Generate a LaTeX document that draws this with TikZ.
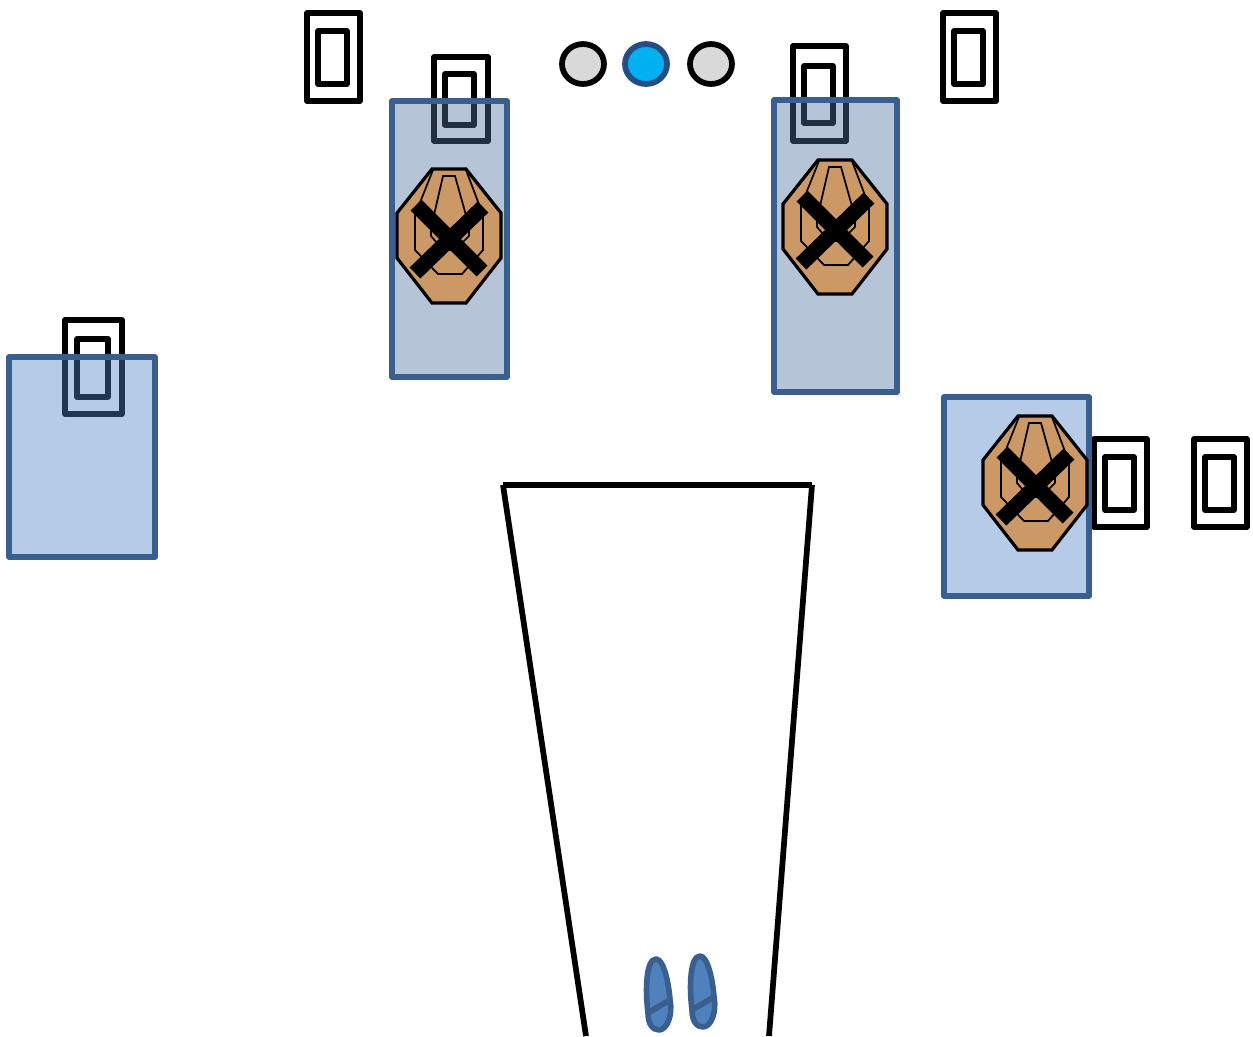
\documentclass[tikz,border=0pt]{standalone}

\definecolor{tapeblue}{HTML}{4E84C8}
\definecolor{tapegrey}{HTML}{4F729D}
\definecolor{edgeblue}{HTML}{3A5F8F}
\definecolor{lampblue}{HTML}{00B0F0}
\definecolor{lampedge}{HTML}{234E85}
\definecolor{targetbrown}{HTML}{CC9966}
\definecolor{footblue}{HTML}{4F81BD}

\newcommand{\shooter}[2]{
  \begin{scope}[shift={(#1,#2)}]
    \draw[target] (-17,-67) -- (17,-67) -- (52,-23) -- (52,22) -- (17,67) -- (-17,67) -- (-52,22) -- (-52,-23) -- cycle;
    \draw[targetline] (-16,-66) -- (-34,-21) -- (-34,14) -- (-11,38) -- (13,38) -- (34,14) -- (34,-21) -- (17,-66);
    \draw[targetline] (-6,-60) -- (6,-60) -- (20,-10) -- (20,0) -- (6,14) -- (-6,14) -- (-18,0) -- (-18,-8) -- cycle;
    \draw[cross] (-33,-31) -- (33,35);
    \draw[cross] (34,-29) -- (-34,37);
  \end{scope}
}

\begin{document}
\begin{tikzpicture}[
    x=0.75pt, y=-0.75pt,
    speaker/.style={draw=black, line width=4.1pt, line join=round},
    panel/.style={draw=edgeblue, line width=3.9pt, line join=round, fill opacity=0.42, draw opacity=1},
    lamp/.style={line width=4.3pt},
    target/.style={draw=black, line width=2.4pt, fill=targetbrown},
    targetline/.style={draw=black, line width=1.3pt},
    cross/.style={draw=black, line width=11.5pt},
    foot/.style={draw=edgeblue, line width=4.2pt, fill=footblue, line join=round}
    ]

    \useasboundingbox (0,0) rectangle (1253,1036);

    % speakers, outer and inner box
    \foreach \xa/\ya/\xb/\yb/\xc/\yc/\xd/\yd in {
        307/13/360/101/318/31/347/84,
        434/57/488/141/445/74/474/125,
        793/46/846/141/804/66/833/123,
        943/13/996/101/954/31/983/84,
        65/320/122/414/77/339/108/397,
        1094/439/1147/527/1105/457/1134/510,
        1194/439/1247/527/1205/457/1234/510}{
      \draw[speaker] (\xa,\ya) rectangle (\xb,\yb);
      \draw[speaker] (\xc,\yc) rectangle (\xd,\yd);
    }

    % panels
    \draw[panel, fill=tapegrey] (392,101) rectangle (507,377);
    \draw[panel, fill=tapegrey] (774,100) rectangle (897,392);
    \draw[panel, fill=tapeblue] (9,357) rectangle (155,557);
    \draw[panel, fill=tapeblue] (944,397) rectangle (1089,596);

    % targets
    \shooter{449}{236}
    \shooter{835}{227}
    \shooter{1035}{483}

    % lamps
    \draw[lamp, fill=black!15] (583,64) ellipse [x radius=21, y radius=20];
    \draw[lamp, draw=lampedge, fill=lampblue] (646,64) ellipse [x radius=21, y radius=20];
    \draw[lamp, fill=black!15] (711,64) ellipse [x radius=21, y radius=20];

    % lane
    \draw[line width=4.3pt] (503,485) -- (812,485);
    \draw[line width=4.3pt] (503,485) -- (586,1036);
    \draw[line width=4.3pt] (812,485) -- (769,1036);

    % feet
    \foreach \dx/\dy in {0/0, 44/-3}{
      \begin{scope}[shift={(\dx,\dy)}]
        \draw[foot] (648,1013) .. controls (645,990) and (646,959) .. (656,959)
          .. controls (664,959) and (669,985) .. (670,1000) -- cycle;
        \draw[foot] (670,1000) .. controls (673,1015) and (667,1030) .. (659,1030)
          .. controls (652,1030) and (648,1023) .. (648,1013) -- cycle;
      \end{scope}
    }

\end{tikzpicture}
\end{document}
